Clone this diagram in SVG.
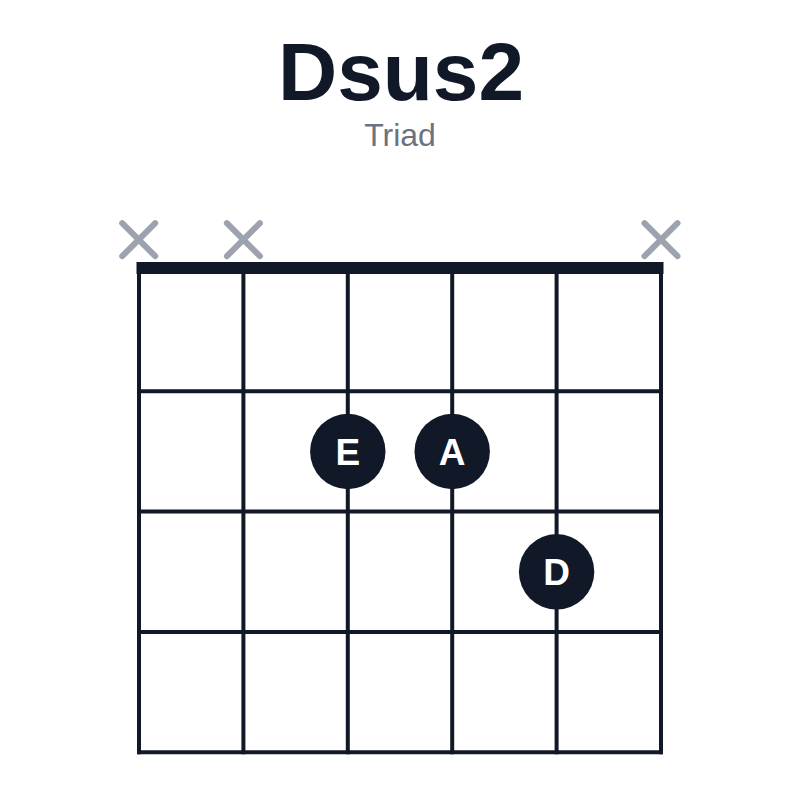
<svg xmlns="http://www.w3.org/2000/svg" width="800" height="800" viewBox="0 0 800 800">
  <style>
    .title { font-family: "Liberation Sans", Arial, sans-serif; font-weight: bold; font-size: 82px; fill: #111827; }
    .sub { font-family: "Liberation Sans", Arial, sans-serif; font-size: 32px; fill: #6b7280; }
    .line { stroke: #111827; stroke-width: 4; stroke-linecap: square; fill: none; }
    .x { stroke: #9ca3af; stroke-width: 6; stroke-linecap: round; fill: none; }
    .dot { fill: #111827; }
    .note { font-family: "Liberation Sans", Arial, sans-serif; font-weight: bold; font-size: 37px; fill: #ffffff; }
  </style>
  <rect width="800" height="800" fill="#ffffff"/>
  <g id="title">
    <text class="title" x="401" y="100" text-anchor="middle">Dsus2</text>
    <text class="sub" x="400" y="146" text-anchor="middle">Triad</text>
  </g>
  <g id="grid">
    <line class="line" x1="139" y1="268" x2="139" y2="752.3"/>
    <line class="line" x1="243.4" y1="268" x2="243.4" y2="752.3"/>
    <line class="line" x1="347.8" y1="268" x2="347.8" y2="752.3"/>
    <line class="line" x1="452.2" y1="268" x2="452.2" y2="752.3"/>
    <line class="line" x1="556.6" y1="268" x2="556.6" y2="752.3"/>
    <line class="line" x1="661" y1="268" x2="661" y2="752.3"/>
    <line class="line" x1="139" y1="391.3" x2="661" y2="391.3"/>
    <line class="line" x1="139" y1="511.6" x2="661" y2="511.6"/>
    <line class="line" x1="139" y1="632" x2="661" y2="632"/>
    <line class="line" x1="139" y1="752.3" x2="661" y2="752.3"/>
    <rect id="nut" x="136.5" y="262" width="527" height="12" fill="#111827"/>
  </g>
  <g id="muted">
    <path class="x" d="M122.2 223.2 L155.2 256.2 M155.2 223.2 L122.2 256.2"/>
    <path class="x" d="M226.9 223.2 L259.9 256.2 M259.9 223.2 L226.9 256.2"/>
    <path class="x" d="M644.5 223.2 L677.5 256.2 M677.5 223.2 L644.5 256.2"/>
  </g>
  <g id="note-E">
    <circle class="dot" cx="347.8" cy="451.5" r="37.7"/>
    <text class="note" x="347.8" y="465" text-anchor="middle">E</text>
  </g>
  <g id="note-A">
    <circle class="dot" cx="452.2" cy="451.5" r="37.7"/>
    <text class="note" x="452.2" y="465" text-anchor="middle">A</text>
  </g>
  <g id="note-D">
    <circle class="dot" cx="556.6" cy="571.8" r="37.7"/>
    <text class="note" x="556.6" y="585.3" text-anchor="middle">D</text>
  </g>
</svg>
